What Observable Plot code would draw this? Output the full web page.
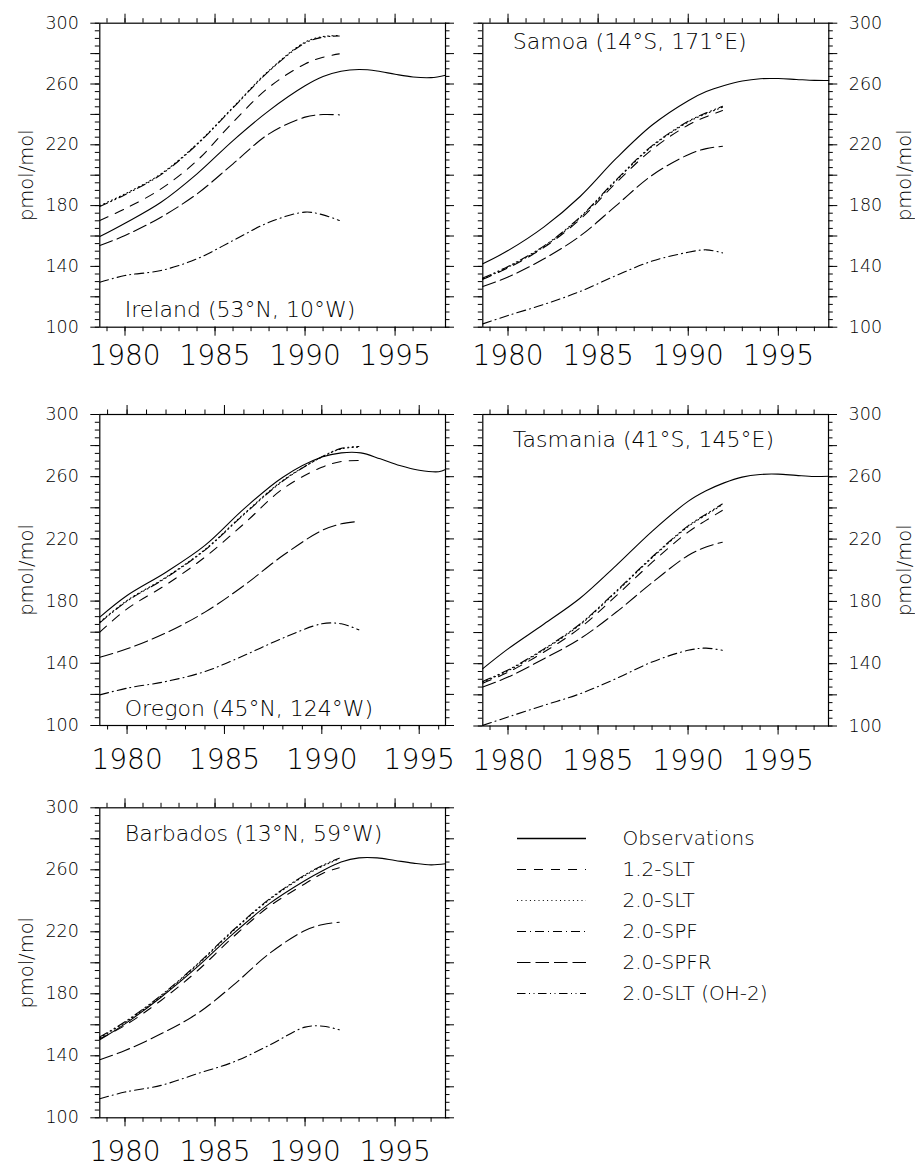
<!DOCTYPE html>
<html><head><meta charset="utf-8">
<script src="https://cdn.jsdelivr.net/npm/d3@7"></script>
<script src="https://cdn.jsdelivr.net/npm/@observablehq/plot@0.6"></script>
<style>
html,body{margin:0;padding:0;background:#fff;overflow:hidden}
#root{position:relative;width:915px;height:1164px}
#root svg{position:absolute;overflow:visible;background:transparent}
</style></head><body><div id="root"></div>
<script>
// ---------- data ----------
const seriesNames = ["Observations","1.2-SLT","2.0-SLT","2.0-SPF","2.0-SPFR","2.0-SLT (OH-2)"];
const obsYears = [1978.6,1980,1982,1984,1986,1988,1990,1991,1992,1993,1994,1995,1996,1997,1997.8];
const obsYearsOregon = [1978.6,1980,1982,1984,1986,1988,1990,1991,1992,1993,1994,1995,1996,1996.35];
const modelYears = [1978.6,1980,1982,1984,1986,1988,1990,1991,1991.9];
const majorYears = [1980,1985,1990,1995];
const yTicks = [100,120,140,160,180,200,220,240,260,280,300];
const yLabels = [100,140,180,220,260,300];

const irelandObs  = [159.6,168.4,182.2,200.9,222.8,242.5,258.8,264.9,268.4,269.5,268.6,266.4,264.6,264.2,265.8];
const ireland12   = [170.2,177.9,191.0,209.6,234.9,257.9,273.2,277.6,279.8];
const ireland20   = [180.0,187.7,200.9,220.6,244.7,268.9,287.5,291.2,291.9];
const irelandSPF  = [129.6,134.0,137.3,145.0,157.0,169.0,175.7,173.9,170.2];
const irelandSPFR = [153.7,160.3,172.4,187.7,207.5,227.2,238.2,239.9,239.7];
const irelandOH2  = [179.4,187.2,200.4,220.2,244.3,268.5,287.0,290.8,291.6];

const samoaObs  = [141.7,150.4,166.0,186.0,211.0,233.0,249.0,255.0,259.0,262.0,263.5,263.6,263.0,262.4,262.3];
const samoa12   = [131.5,139.0,152.5,171.0,195.0,217.0,233.0,238.5,242.5];
const samoa20   = [131.8,139.5,153.0,172.0,196.5,219.0,235.0,240.5,244.7];
const samoaSPF  = [102.2,107.7,115.0,123.5,134.0,143.5,149.3,150.9,148.9];
const samoaSPFR = [126.8,133.0,145.0,160.0,180.0,200.0,213.5,217.5,219.0];
const samoaOH2  = [132.3,140.0,153.5,172.5,197.0,219.5,235.5,241.0,245.3];

const oregonObs  = [169.7,183.6,198.6,215.8,239.3,259.7,272.6,275.3,275.3,271.5,267.2,264.2,263.2,264.6];
const oregon12   = [160.0,175.0,190.5,208.3,229.7,252.2,266.1,269.8,270.4];
const oregon20   = [166.5,180.4,195.4,213.2,236.1,257.6,272.6,277.9,279.0];
const oregonSPF  = [119.7,124.0,128.3,134.7,145.0,156.2,165.4,165.4,161.5];
const oregonSPFR = [143.9,149.3,159.6,172.9,190.0,209.3,225.4,229.7,231.2];
const oregonOH2  = [166.0,180.0,195.0,212.8,235.7,257.2,272.8,278.2,279.4];

const tasmaniaObs  = [136.8,149.5,165.5,182.0,203.0,225.0,244.2,251.0,256.1,259.8,261.5,261.7,260.9,260.2,260.4];
const tasmania12   = [127.5,134.5,147.5,163.0,183.5,205.0,224.5,232.0,238.4];
const tasmania20   = [128.2,135.5,149.0,165.0,186.0,208.0,228.0,235.5,242.0];
const tasmaniaSPF  = [100.4,105.8,113.3,120.7,130.4,141.1,148.6,150.0,148.6];
const tasmaniaSPFR = [125.0,131.4,143.2,156.0,173.0,192.0,209.5,214.9,218.0];
const tasmaniaOH2  = [128.6,136.0,149.5,165.5,186.5,208.5,228.5,236.0,242.5];

const barbadosObs  = [150.3,160.6,177.8,197.2,218.7,238.0,253.1,259.6,265.0,267.7,267.7,266.0,264.3,263.2,263.9];
const barbados12   = [151.0,159.6,175.7,194.6,216.6,236.3,251.0,257.8,261.3];
const barbados20   = [151.6,161.5,178.5,198.5,220.5,240.5,256.3,262.5,267.1];
const barbadosSPF  = [112.3,116.6,120.9,128.4,135.9,146.7,158.5,159.1,156.8];
const barbadosSPFR = [137.4,143.4,154.2,167.1,185.4,205.8,220.9,224.7,226.2];
const barbadosOH2  = [152.2,162.0,179.0,199.0,221.0,241.0,256.8,263.0,267.5];

// ---------- styling ----------
const FONT = "'DejaVu Sans', sans-serif";
const dash = {
  "Observations": null,
  "1.2-SLT": "9,8",
  "2.0-SLT": "1,3.3",
  "2.0-SPF": "9,4,1,4",
  "2.0-SPFR": "13.5,5",
  "2.0-SLT (OH-2)": "8.5,3.5,1,3.5,1,3.5"
};
const rows = (xs, ys) => xs.map((x, i) => ({x, y: ys[i]}));
const root = document.getElementById("root");

function place(svg, left, top) {
  svg.style.left = left + "px";
  svg.style.top = top + "px";
  root.appendChild(svg);
}

function panel(cfg) {
  const [bl, bt, bw, bh] = cfg.box;
  const [x0, y0, x1, y1] = cfg.frame;
  const fw = x1 - x0, fh = y1 - y0;
  const minorYears = d3.range(Math.ceil(cfg.xDomain[0]), Math.floor(cfg.xDomain[1]) + 1);
  const minorY = d3.range(100, 301, 5);
  const obsX = cfg.obsYears || obsYears;
  const data = [
    ["Observations", rows(obsX, cfg.obs)],
    ["1.2-SLT", rows(modelYears, cfg.s12)],
    ["2.0-SLT", rows(modelYears, cfg.s20)],
    ["2.0-SPF", rows(modelYears, cfg.spf)],
    ["2.0-SPFR", rows(modelYears, cfg.spfr)],
    ["2.0-SLT (OH-2)", rows(modelYears, cfg.oh2)]
  ];
  const tk = {stroke: "black", strokeWidth: 1};
  const marks = [
    // outward tick marks on all four sides
    Plot.ruleY(minorY, {y: d => d, insetLeft: -4.5, insetRight: fw, ...tk}),
    Plot.ruleY(minorY, {y: d => d, insetLeft: fw, insetRight: -4.5, ...tk}),
    Plot.ruleY(yTicks, {y: d => d, insetLeft: -9, insetRight: fw, ...tk}),
    Plot.ruleY(yTicks, {y: d => d, insetLeft: fw, insetRight: -9, ...tk}),
    Plot.ruleX(minorYears, {x: d => d, insetTop: fh, insetBottom: -4.5, ...tk}),
    Plot.ruleX(minorYears, {x: d => d, insetTop: -4.5, insetBottom: fh, ...tk}),
    Plot.ruleX(majorYears, {x: d => d, insetTop: fh, insetBottom: -9, ...tk}),
    Plot.ruleX(majorYears, {x: d => d, insetTop: -9, insetBottom: fh, ...tk}),
    // tick labels
    Plot.axisY(yLabels, {anchor: cfg.side, tickSize: 0, tickPadding: cfg.side === "left" ? 21 : 20,
      fontSize: 17.5, tickFormat: d => String(d), label: null}),
    Plot.axisX(majorYears, {anchor: "bottom", tickSize: 0, tickPadding: 9 + cfg.xPad, fontSize: 28,
      tickFormat: d => String(d), label: null})
  ];
  for (const [name, d] of data) {
    marks.push(Plot.line(d, {x: "x", y: "y", curve: "catmull-rom", stroke: "black",
      strokeWidth: 1.1, strokeDasharray: dash[name]}));
  }
  marks.push(
    Plot.frame({stroke: "black", strokeWidth: 1.2}),
    Plot.text(["pmol/mol"], {text: d => d, frameAnchor: cfg.side, dx: cfg.side === "left" ? -73 : 76,
      rotate: -90, textAnchor: "middle", lineAnchor: "middle", fontSize: 19.5}),
    Plot.text([cfg.label], {text: d => d, frameAnchor: cfg.labelAnchor, textAnchor: "start",
      dx: cfg.labelDx, dy: cfg.labelDy, fontSize: 22})
  );
  const svg = Plot.plot({
    width: bw, height: bh,
    marginLeft: x0 - bl, marginRight: bl + bw - x1, marginTop: y0 - bt, marginBottom: bt + bh - y1,
    x: {domain: cfg.xDomain, label: null},
    y: {domain: [100, 300], label: null},
    style: {fontFamily: FONT, fontWeight: 300, background: "transparent", color: "black", overflow: "visible"},
    marks
  });
  place(svg, bl, bt);
}

const panels = [
  {label: "Ireland (53°N, 10°W)", box: [0, 0, 458, 380], frame: [99.3, 22.7, 445, 326.7], xDomain: [1978.6, 1997.8], side: "left",
   labelAnchor: "bottom-left", labelDx: 25, labelDy: -10, xPad: 9,
   obs: irelandObs, s12: ireland12, s20: ireland20, spf: irelandSPF, spfr: irelandSPFR, oh2: irelandOH2},
  {label: "Samoa (14°S, 171°E)", box: [458, 0, 457, 380], frame: [482.3, 22.7, 828.3, 326.7], xDomain: [1978.6, 1997.8], side: "right",
   labelAnchor: "top-left", labelDx: 30, labelDy: 10.5, xPad: 9,
   obs: samoaObs, s12: samoa12, s20: samoa20, spf: samoaSPF, spfr: samoaSPFR, oh2: samoaOH2},
  {label: "Oregon (45°N, 124°W)", box: [0, 380, 458, 400], frame: [99.3, 414, 445, 725], xDomain: [1978.6, 1996.35], side: "left",
   labelAnchor: "bottom-left", labelDx: 25, labelDy: -10, xPad: 15, obsYears: obsYearsOregon,
   obs: oregonObs, s12: oregon12, s20: oregon20, spf: oregonSPF, spfr: oregonSPFR, oh2: oregonOH2},
  {label: "Tasmania (41°S, 145°E)", box: [458, 380, 457, 400], frame: [482.3, 414, 828, 725.5], xDomain: [1978.6, 1997.8], side: "right",
   labelAnchor: "top-left", labelDx: 30, labelDy: 17, xPad: 15,
   obs: tasmaniaObs, s12: tasmania12, s20: tasmania20, spf: tasmaniaSPF, spfr: tasmaniaSPFR, oh2: tasmaniaOH2},
  {label: "Barbados (13°N, 59°W)", box: [0, 780, 458, 384], frame: [99.3, 807.3, 445, 1117.3], xDomain: [1978.6, 1997.8], side: "left",
   labelAnchor: "top-left", labelDx: 25, labelDy: 18, xPad: 14,
   obs: barbadosObs, s12: barbados12, s20: barbados20, spf: barbadosSPF, spfr: barbadosSPFR, oh2: barbadosOH2}
];
for (const p of panels) panel(p);

// ---------- legend ----------
const legendMarks = [];
for (const name of seriesNames) {
  legendMarks.push(Plot.ruleY([name], {y: d => d, x1: 0, x2: 1, stroke: "black",
    strokeWidth: name === "Observations" ? 1.3 : 1.2, strokeDasharray: dash[name]}));
}
legendMarks.push(Plot.text(seriesNames, {x: 1, y: d => d, text: d => d, dx: 36, textAnchor: "start",
  lineAnchor: "middle", fontSize: 20}));
const legend = Plot.plot({
  width: 457, height: 384,
  marginLeft: 517 - 458, marginRight: 458 + 457 - 586, marginTop: 838.3 - 780, marginBottom: 780 + 384 - 993.3,
  x: {domain: [0, 1], axis: null},
  y: {type: "point", domain: seriesNames, padding: 0, axis: null},
  style: {fontFamily: FONT, fontWeight: 300, background: "transparent", color: "black", overflow: "visible"},
  marks: legendMarks
});
place(legend, 458, 780);
</script></body></html>
